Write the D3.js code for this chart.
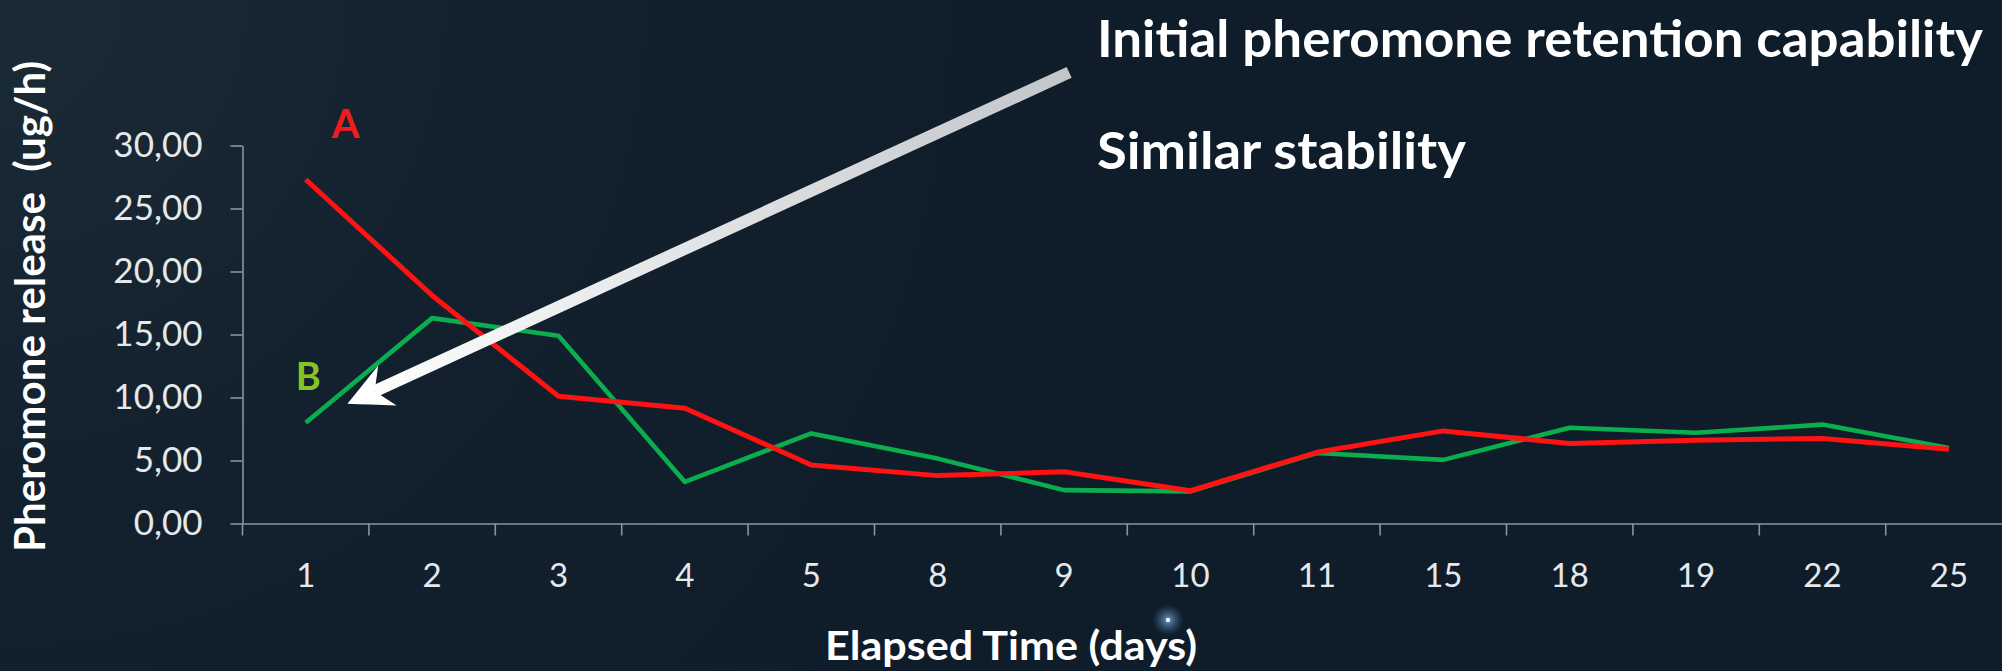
<!DOCTYPE html>
<html>
<head>
<meta charset="utf-8">
<script src="https://cdn.jsdelivr.net/npm/d3@7/dist/d3.min.js"></script>
<style>
  html, body { margin: 0; padding: 0; background: #0f1c29; overflow: hidden; }
  svg { display: block; }
  text { font-family: Lato, 'Open Sans', sans-serif; }
</style>
</head>
<body>
<div id="chart"></div>
<script>
// data
const days = ['1', '2', '3', '4', '5', '8', '9', '10', '11', '15', '18', '19', '22', '25'];
const seriesA = [27.3, 18.1, 10.1, 9.15, 4.65, 3.8, 4.1, 2.6, 5.65, 7.35, 6.35, 6.6, 6.75, 5.9];
const seriesB = [8.0, 16.3, 14.9, 3.3, 7.15, 5.15, 2.65, 2.55, 5.6, 5.05, 7.6, 7.2, 7.85, 6.0];
const yTicks = [0, 5, 10, 15, 20, 25, 30];
const seriesNames = ['A', 'B'];
const notes = ['Initial pheromone retention capability', 'Similar stability'];
const yTitle = 'Pheromone release\u00a0\u00a0(ug/h)';
const xTitle = 'Elapsed Time (days)';

// dimension stuff
const width = 2002;
const height = 671;
const marginLeft = 242.5;
const marginTop = 145.5;
const plotBottom = 523.5;
const bandW = 126.4;
const tickLen = 12;

const colorA = '#ff1212';
const colorB = '#0bae4e';
const axisColor = '#8a949c';

// scales
const scaleX = d3.scaleBand()
  .domain(days)
  .range([marginLeft, marginLeft + bandW * days.length])
  .paddingInner(0)
  .paddingOuter(0);
// same x axis but as a continuous category index, for annotations
const scaleI = d3.scaleLinear()
  .domain([0, days.length])
  .range(scaleX.range());
const scaleY = d3.scaleLinear()
  .domain([0, 30])
  .range([plotBottom, marginTop]);

const $svg = d3.select('#chart').append('svg')
  .attr('width', width)
  .attr('height', height);

const $defs = $svg.append('defs');

// background: dark navy, a bit lighter at the top left
const bg = $defs.append('radialGradient')
  .attr('id', 'bg')
  .attr('gradientUnits', 'userSpaceOnUse')
  .attr('cx', 0).attr('cy', 0).attr('r', 1100);
bg.append('stop').attr('offset', 0).attr('stop-color', '#1b2b35');
bg.append('stop').attr('offset', 0.45).attr('stop-color', '#13212e');
bg.append('stop').attr('offset', 1).attr('stop-color', '#0f1c29');

$svg.append('rect')
  .attr('width', width)
  .attr('height', height)
  .attr('fill', 'url(#bg)');

// one small blue star under the x axis
const glow = $defs.append('radialGradient').attr('id', 'glow');
glow.append('stop').attr('offset', 0).attr('stop-color', '#9fd0ff').attr('stop-opacity', 0.7);
glow.append('stop').attr('offset', 1).attr('stop-color', '#3a6fa8').attr('stop-opacity', 0);
$svg.append('circle').attr('cx', 1168).attr('cy', 620).attr('r', 16).attr('fill', 'url(#glow)');
$svg.append('circle').attr('cx', 1168).attr('cy', 620).attr('r', 2.2).attr('fill', '#e8f4ff');

// y axis
const $yAxis = $svg.append('g')
  .attr('class', 'g-axis-y')
  .attr('transform', `translate(${marginLeft}, 0)`)
  .call(d3.axisLeft(scaleY)
    .tickValues(yTicks)
    .tickSize(tickLen)
    .tickSizeOuter(0)
    .tickPadding(28)
    .tickFormat(d => d3.format('.2f')(d).replace('.', ',')));

// x axis, labels centred in the bands
const $xAxis = $svg.append('g')
  .attr('class', 'g-axis-x')
  .attr('transform', `translate(0, ${plotBottom})`)
  .call(d3.axisBottom(scaleX).tickSize(0).tickSizeOuter(0).tickPadding(40));

// ticks sit on the band edges, not the centres
const edges = days.map(d => scaleX(d)).concat(scaleX.range()[1]);
$xAxis.selectAll('.edge')
  .data(edges)
  .enter()
  .append('line')
  .attr('class', 'edge')
  .attr('x1', d => d).attr('x2', d => d)
  .attr('y1', 0).attr('y2', tickLen);

$svg.selectAll('.g-axis-y path, .g-axis-y line, .g-axis-x path, .g-axis-x line')
  .attr('stroke', axisColor)
  .attr('stroke-width', 1.6);

$yAxis.selectAll('text')
  .attr('fill', '#e6e9ec')
  .attr('font-size', 35)
  .attr('font-family', 'Lato, sans-serif');

$xAxis.selectAll('text')
  .attr('fill', '#e6e9ec')
  .attr('font-size', 33)
  .attr('font-family', 'Lato, sans-serif');

// lines, B under A
const line = d3.line()
  .x((d, i) => scaleX(days[i]) + scaleX.bandwidth() / 2)
  .y(d => scaleY(d));

$svg.append('path')
  .datum(seriesB)
  .attr('fill', 'none')
  .attr('stroke', colorB)
  .attr('stroke-width', 4.6)
  .attr('stroke-linejoin', 'round')
  .attr('d', line);

$svg.append('path')
  .datum(seriesA)
  .attr('fill', 'none')
  .attr('stroke', colorA)
  .attr('stroke-width', 5)
  .attr('stroke-linejoin', 'round')
  .attr('d', line);

// series labels
const labelPos = [
  { i: 0.815, v: 30.6, fill: '#f01c1c', size: 40 },
  { i: 0.52, v: 10.6, fill: '#86c426', size: 38 }
];
$svg.selectAll('.series-label')
  .data(seriesNames)
  .enter()
  .append('text')
  .attr('class', 'series-label')
  .attr('x', (d, i) => scaleI(labelPos[i].i))
  .attr('y', (d, i) => scaleY(labelPos[i].v))
  .attr('text-anchor', 'middle')
  .attr('font-weight', 700)
  .attr('font-size', (d, i) => labelPos[i].size)
  .attr('fill', (d, i) => labelPos[i].fill)
  .text(d => d);

// arrow from the note down to the first B point
const tail = [scaleI(6.54), scaleY(35.8)];
const tip = [scaleI(0.83), scaleY(9.5)];
const dx = tail[0] - tip[0];
const dy = tail[1] - tip[1];
const len = Math.sqrt(dx * dx + dy * dy);
const u = [dx / len, dy / len];
const n = [-u[1], u[0]];
const at = (a, b) => [tip[0] + u[0] * a + n[0] * b, tip[1] + u[1] * a + n[1] * b];

const arrowGrad = $defs.append('linearGradient')
  .attr('id', 'arrowGrad')
  .attr('gradientUnits', 'userSpaceOnUse')
  .attr('x1', tail[0]).attr('y1', tail[1])
  .attr('x2', tip[0]).attr('y2', tip[1]);
arrowGrad.append('stop').attr('offset', 0).attr('stop-color', '#c3c6c9');
arrowGrad.append('stop').attr('offset', 1).attr('stop-color', '#ffffff');

const neck = at(30, 0);
$svg.append('path')
  .attr('d', `M${tail}L${neck}`)
  .attr('stroke', 'url(#arrowGrad)')
  .attr('stroke-width', 12)
  .attr('fill', 'none');

const b1 = at(44, 22);
const b2 = at(44, -22);
const c1 = at(20, 10);
const c2 = at(20, -10);
$svg.append('path')
  .attr('d', `M${tip}Q${c1} ${b1}L${neck}L${b2}Q${c2} ${tip}Z`)
  .attr('fill', '#ffffff');

// notes top right
const noteLayout = [
  { y: 57, w: 886 },
  { y: 169, w: 369 }
];
$svg.selectAll('.note')
  .data(notes)
  .enter()
  .append('text')
  .attr('class', 'note')
  .attr('x', 1097)
  .attr('y', (d, i) => noteLayout[i].y)
  .attr('font-size', 51)
  .attr('font-weight', 700)
  .attr('fill', '#ffffff')
  .attr('textLength', (d, i) => noteLayout[i].w)
  .attr('lengthAdjust', 'spacingAndGlyphs')
  .text(d => d);

// axis titles
$svg.append('text')
  .attr('transform', 'translate(45, 306.5) rotate(-90)')
  .attr('text-anchor', 'middle')
  .attr('font-size', 42)
  .attr('font-weight', 700)
  .attr('fill', '#ffffff')
  .attr('textLength', 491)
  .attr('lengthAdjust', 'spacingAndGlyphs')
  .text(yTitle);

$svg.append('text')
  .attr('x', 1011)
  .attr('y', 659.5)
  .attr('text-anchor', 'middle')
  .attr('font-size', 40)
  .attr('font-weight', 700)
  .attr('fill', '#ffffff')
  .attr('textLength', 372)
  .attr('lengthAdjust', 'spacingAndGlyphs')
  .text(xTitle);
</script>
</body>
</html>
